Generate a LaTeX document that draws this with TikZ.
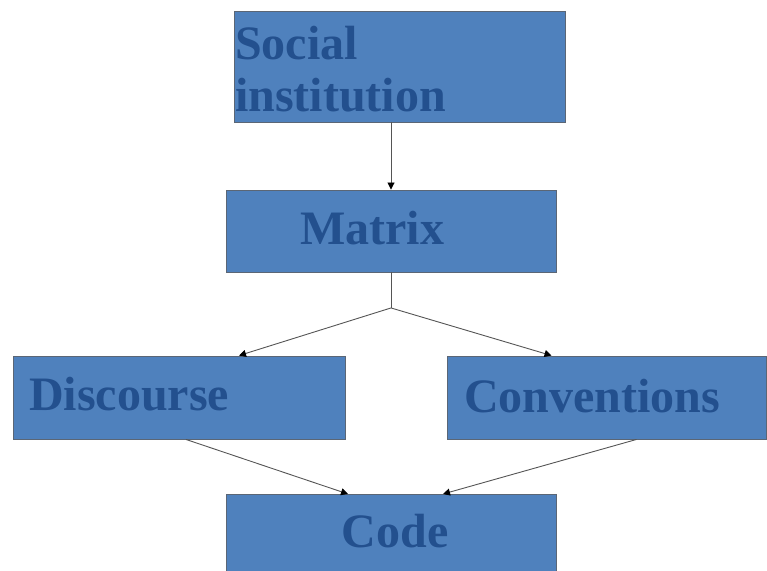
\documentclass[tikz,border=0pt]{standalone}
\usepackage{fontspec}
\setmainfont{Liberation Serif}
\usetikzlibrary{arrows.meta,calc}
\definecolor{boxfill}{HTML}{4F81BD}
\definecolor{boxline}{HTML}{5B6675}
\definecolor{txt}{HTML}{23508E}
\definecolor{conn}{HTML}{555555}
\tikzset{
  box/.style={draw=boxline, fill=boxfill, line width=0.9pt, rectangle, inner sep=0pt},
  lbl/.style={anchor=base west, inner sep=0pt, text=txt, font=\bfseries\fontsize{48}{52}\selectfont},
  conn/.style={draw=conn, line width=0.9pt, -{Triangle[length=7pt,width=7pt,color=black]}},
  plain/.style={draw=conn, line width=0.9pt}
}
\begin{document}
\begin{tikzpicture}[x=1pt,y=1pt]
\useasboundingbox (0,0) rectangle (767,570);
\begin{scope}
\clip (0,0) rectangle (767,570);
\node[box, minimum width=331pt, minimum height=111pt] (soc) at (399.5,503.5) {};
\node[box, minimum width=330pt, minimum height=82pt] (mat) at (391,339) {};
\node[box, minimum width=332pt, minimum height=83pt] (dis) at (179,172.5) {};
\node[box, minimum width=319pt, minimum height=83pt] (con) at (606.5,172.5) {};
\node[box, minimum width=330pt, minimum height=90pt] (code) at (391,31) {};
\end{scope}
\node[lbl] (tsoc1) at (235,510) {Social};
\node[lbl] (tsoc2) at (235,458) {institution};
\node[lbl] (tmat) at (300,325.7) {Matrix};
\node[lbl] (tdis) at (29,160) {Discourse};
\node[lbl] (tcon) at (464,157.3) {Conventions};
\node[lbl] (tcode) at (341.5,22.3) {Code};
% connectors
\draw[conn] (mat.north |- soc.south) -- (mat.north);
\coordinate (j) at ($(mat.south)+(0,-35.5)$);
\coordinate (dtop) at ($(dis.north)+(60,0)$);
\coordinate (ctop) at ($(con.north)+(-55,0)$);
\draw[plain] (mat.south) -- (j);
\draw[conn] (j) -- (dtop);
\draw[conn] (j) -- (ctop);
\coordinate (dbot) at ($(dis.south)+(7,0)$);
\coordinate (cbot) at ($(con.south)+(30,0)$);
\coordinate (k1) at (348,76);
\coordinate (k2) at (443,76);
\draw[conn] (dbot) -- (k1);
\draw[conn] (cbot) -- (k2);
\end{tikzpicture}
\end{document}
